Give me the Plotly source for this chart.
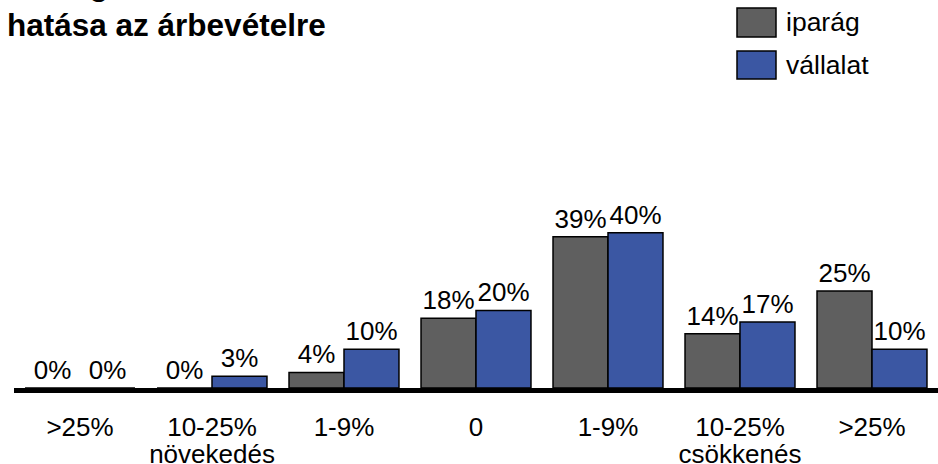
import plotly.graph_objects as go

categories = [">25%", "10-25%", "1-9%", "0", "1-9%", "10-25%", ">25%"]
sublabels = ["", "növekedés", "", "", "", "csökkenés", ""]
series_names = ["iparág", "vállalat"]
iparag = [0, 0, 4, 18, 39, 14, 25]
vallalat = [0, 3, 10, 20, 40, 17, 10]
title_text = "Válság<br>hatása az árbevételre"

colors = ["#5f5f5f", "#3b57a3"]
FONT = "Arial, Liberation Sans, sans-serif"
W, H = 938, 464
L, R, T, B = 14, 0, 194, 76
pw, ph = W - L - R, H - T - B

def px_x(x):
    return (x - L) / pw

def px_y(y):
    return (H - B - y) / ph

xs = list(range(len(categories)))
fig = go.Figure()
for name, vals, col in zip(series_names, [iparag, vallalat], colors):
    fig.add_trace(go.Bar(
        x=xs, y=vals, name=name,
        marker=dict(color=col, line=dict(color="black", width=1.5)),
        texttemplate="%{y}%", textposition="outside",
        textfont=dict(size=26, color="black", family=FONT),
        cliponaxis=False, showlegend=False,
    ))
# invisible helper trace so the second (sub-label) x axis is drawn
fig.add_trace(go.Scatter(x=xs, y=[0] * len(xs), xaxis="x2", mode="none",
                         hoverinfo="skip", showlegend=False))

fig.update_layout(
    width=W, height=H,
    margin=dict(l=L, r=R, t=T, b=B, autoexpand=False),
    paper_bgcolor="white", plot_bgcolor="white",
    barmode="group", bargap=0.167, bargroupgap=0,
    font=dict(family=FONT, size=26, color="black"),
    xaxis=dict(
        tickvals=xs, ticktext=categories, range=[-0.5, len(xs) - 0.5],
        showline=True, linecolor="black", linewidth=5,
        ticks="", showgrid=False, zeroline=False, automargin=False,
        tickfont=dict(size=26, color="black", family=FONT),
        ticklabelstandoff=12,
    ),
    xaxis2=dict(
        overlaying="x", side="bottom", anchor="y",
        tickvals=xs, ticktext=sublabels, range=[-0.5, len(xs) - 0.5],
        showline=False, ticks="", showgrid=False, zeroline=False, automargin=False,
        tickfont=dict(size=26, color="black", family=FONT),
        ticklabelstandoff=48,
    ),
    yaxis=dict(visible=False, range=[0, 50], automargin=False),
)

fig.add_annotation(
    text="<b>" + title_text + "</b>", xref="paper", yref="paper",
    x=px_x(5), y=px_y(45), xanchor="left", yanchor="bottom", align="left",
    showarrow=False, font=dict(size=31.5, color="black", family=FONT),
)

box_y = [(8, 37), (51, 79)]
text_y = [22, 65]
for name, col, (y0, y1), ty in zip(series_names, colors, box_y, text_y):
    fig.add_shape(type="rect", xref="paper", yref="paper",
                  x0=px_x(737), x1=px_x(776), y0=px_y(y1), y1=px_y(y0),
                  fillcolor=col, line=dict(color="black", width=1.5))
    fig.add_annotation(text=name, xref="paper", yref="paper",
                       x=px_x(784), y=px_y(ty), xanchor="left", yanchor="middle",
                       showarrow=False, font=dict(size=26.5, color="black", family=FONT))

fig.write_html("out.html", config={"displayModeBar": False},
               post_script="document.body.style.margin='0';")
